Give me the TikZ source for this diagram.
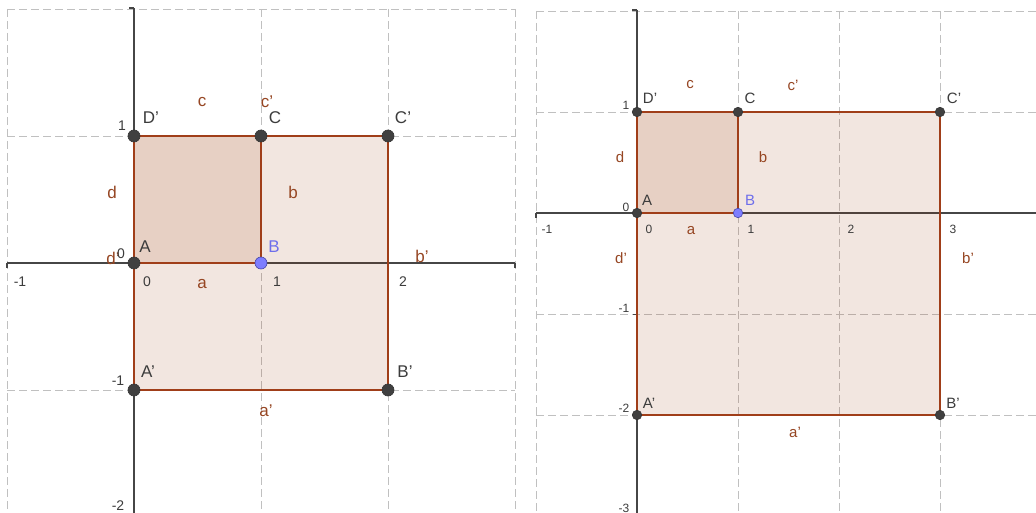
\documentclass[tikz,border=0pt]{standalone}
\usepackage{fontspec}
\setmainfont{Liberation Sans}
\definecolor{edgec}{RGB}{160,62,25}
\definecolor{labc}{RGB}{150,70,35}
\definecolor{fillc}{RGB}{153,51,0}
\definecolor{gridc}{RGB}{192,192,192}
\definecolor{axisc}{RGB}{70,70,70}
\definecolor{ptc}{RGB}{64,64,64}
\definecolor{bfill}{RGB}{125,125,255}
\definecolor{bline}{RGB}{70,70,170}
\definecolor{blab}{RGB}{110,110,235}
\definecolor{numc}{RGB}{60,60,60}
\begin{document}
\begin{tikzpicture}[x=1pt,y=-1pt,
  gridline/.style={gridc,line width=0.9pt,dash pattern=on 8pt off 4pt},
  axisline/.style={axisc,line width=1.6pt},
  edgeline/.style={edgec,line width=1.8pt},
  areafill/.style={fill=fillc,fill opacity=0.12},
  ptL/.style={circle,fill=ptc,draw=black!80,line width=0.6pt,inner sep=0pt,minimum size=12pt},
  ptR/.style={circle,fill=ptc,draw=black!80,line width=0.6pt,inner sep=0pt,minimum size=9.5pt},
  ptBL/.style={ptL,fill=bfill,draw=bline},
  ptBR/.style={ptR,fill=bfill,draw=bline},
  labL/.style={text=labc,font=\fontsize{17}{17}\selectfont,inner sep=0pt},
  labR/.style={text=labc,font=\fontsize{15}{15}\selectfont,inner sep=0pt},
  ptlabL/.style={text=numc,font=\fontsize{17}{17}\selectfont,inner sep=0pt},
  ptlabR/.style={text=numc,font=\fontsize{15}{15}\selectfont,inner sep=0pt},
  numL/.style={text=numc,font=\fontsize{14}{14}\selectfont,inner sep=0pt},
  numR/.style={text=numc,font=\fontsize{12}{12}\selectfont,inner sep=0pt}]
\useasboundingbox[fill=white] (0,0) rectangle (1036,513);

%% ================= LEFT PANEL =================
% grid
\foreach \x in {7,261,388,515} \draw[gridline] (\x,9) -- (\x,513);
\foreach \y in {9,136,390} \draw[gridline] (7,\y) -- (515,\y);
% axes
\coordinate (LxS) at (7,263);
\coordinate (LxE) at (515,263);
\coordinate (LyS) at (134,8);
\coordinate (LyE) at (134,513);
\draw[axisline] (LxS) -- (LxE);
\draw[axisline] (LyS) -- (LyE);
\draw[axisline,line width=1.2pt] (LxS) -- ++(0,5);
\draw[axisline,line width=1.2pt] (LxE) -- ++(0,5);
\draw[axisline,line width=1.2pt] (LyS) -- ++(-5,0);
% points
\coordinate (lA) at (134,263);
\coordinate (lB) at (261,263);
\coordinate (lC) at (261,136);
\coordinate (lD) at (134,136);
\coordinate (lCp) at (388,136);
\coordinate (lBp) at (388,390);
\coordinate (lAp) at (134,390);
% fills
\fill[areafill] (lAp) -- (lBp) -- (lCp) -- (lD) -- cycle;
\fill[areafill] (lA) -- (lB) -- (lC) -- (lD) -- cycle;
% edges
\draw[edgeline] (lAp) -- (lBp) -- (lCp) -- (lD) -- cycle;
\draw[edgeline] (lA) -- (lB) -- (lC) -- (lD) -- cycle;
% point markers
\node[ptL] (LA) at (lA) {};
\node[ptBL] (LB) at (lB) {};
\node[ptL] (LC) at (lC) {};
\node[ptL] (LD) at (lD) {};
\node[ptL] (LCp) at (lCp) {};
\node[ptL] (LBp) at (lBp) {};
\node[ptL] (LAp) at (lAp) {};
% labels
\node[labL] (Lc) at (202,102) {c};
\node[labL] (Lcp) at (267,102) {c'};
\node[ptlabL] (LDlab) at (151,118) {D'};
\node[numL] (Ly1) at (122,126) {1};
\node[ptlabL] (LClab) at (275,118) {C};
\node[ptlabL] (LCplab) at (403,118) {C'};
\node[labL] (Ld) at (112,192) {d};
\node[labL] (Lb) at (293,192) {b};
\node[ptlabL] (LAlab) at (145,247) {A};
\node[ptlabL,text=blab] (LBlab) at (274,247) {B};
\node[labL] (Lbp) at (422,256) {b'};
\node[labL] (Ldp) at (113,258) {d'};
\node[numL] (Ly0) at (121,254) {0};
\node[numL] (Lxm1) at (20,282) {-1};
\node[numL] (Lx0) at (147,282) {0};
\node[labL] (La) at (202,284) {a};
\node[numL] (Lx1) at (277,282) {1};
\node[numL] (Lx2) at (403,282) {2};
\node[ptlabL] (LAplab) at (148,372) {A'};
\node[numL] (Lym1) at (118,381) {-1};
\node[ptlabL] (LBplab) at (405,372) {B'};
\node[labL] (Lap) at (266,411) {a'};
\node[numL] (Lym2) at (118,506) {-2};

%% ================= RIGHT PANEL =================
\foreach \x in {536,738,839,940} \draw[gridline] (\x,11) -- (\x,513);
\foreach \y in {11,112,314,415} \draw[gridline] (536,\y) -- (1036,\y);
\coordinate (RxS) at (536,213);
\coordinate (RxE) at (1036,213);
\coordinate (RyS) at (637,10);
\coordinate (RyE) at (637,513);
\draw[axisline] (RxS) -- (RxE);
\draw[axisline] (RyS) -- (RyE);
\draw[axisline,line width=1.2pt] (RxS) -- ++(0,5);
\draw[axisline,line width=1.2pt] (RyS) -- ++(-5,0);
\foreach \y in {314,415} \draw[axisline,line width=1.0pt] (637,\y) -- ++(-4,0);
\coordinate (rA) at (637,213);
\coordinate (rB) at (738,213);
\coordinate (rC) at (738,112);
\coordinate (rD) at (637,112);
\coordinate (rCp) at (940,112);
\coordinate (rBp) at (940,415);
\coordinate (rAp) at (637,415);
\fill[areafill] (rAp) -- (rBp) -- (rCp) -- (rD) -- cycle;
\fill[areafill] (rA) -- (rB) -- (rC) -- (rD) -- cycle;
\draw[edgeline,line width=1.5pt] (rAp) -- (rBp) -- (rCp) -- (rD) -- cycle;
\draw[edgeline,line width=1.5pt] (rA) -- (rB) -- (rC) -- (rD) -- cycle;
\node[ptR] (RA) at (rA) {};
\node[ptBR] (RB) at (rB) {};
\node[ptR] (RC) at (rC) {};
\node[ptR] (RD) at (rD) {};
\node[ptR] (RCp) at (rCp) {};
\node[ptR] (RBp) at (rBp) {};
\node[ptR] (RAp) at (rAp) {};
\node[labR] (Rc) at (690,85) {c};
\node[labR] (Rcp) at (793,85) {c'};
\node[ptlabR] (RDlab) at (650,98) {D'};
\node[numR] (Ry1) at (626,105) {1};
\node[ptlabR] (RClab) at (750,98) {C};
\node[ptlabR] (RCplab) at (954,98) {C'};
\node[labR] (Rd) at (620,157) {d};
\node[labR] (Rb) at (763,157) {b};
\node[ptlabR] (RAlab) at (647,200) {A};
\node[numR] (Ry0) at (626,207) {0};
\node[ptlabR,text=blab] (RBlab) at (750,200) {B};
\node[numR] (Rxm1) at (547,229) {-1};
\node[numR] (Rx0) at (649,229) {0};
\node[labR] (Ra) at (691,231) {a};
\node[numR] (Rx1) at (751,229) {1};
\node[numR] (Rx2) at (851,229) {2};
\node[numR] (Rx3) at (953,229) {3};
\node[labR] (Rdp) at (621,258) {d'};
\node[labR] (Rbp) at (968,258) {b'};
\node[numR] (Rym1) at (624,308) {-1};
\node[numR] (Rym2) at (624,408) {-2};
\node[ptlabR] (RAplab) at (649,403) {A'};
\node[ptlabR] (RBplab) at (953,403) {B'};
\node[labR] (Rap) at (795,432) {a'};
\node[numR] (Rym3) at (624,508) {-3};
\end{tikzpicture}
\end{document}
